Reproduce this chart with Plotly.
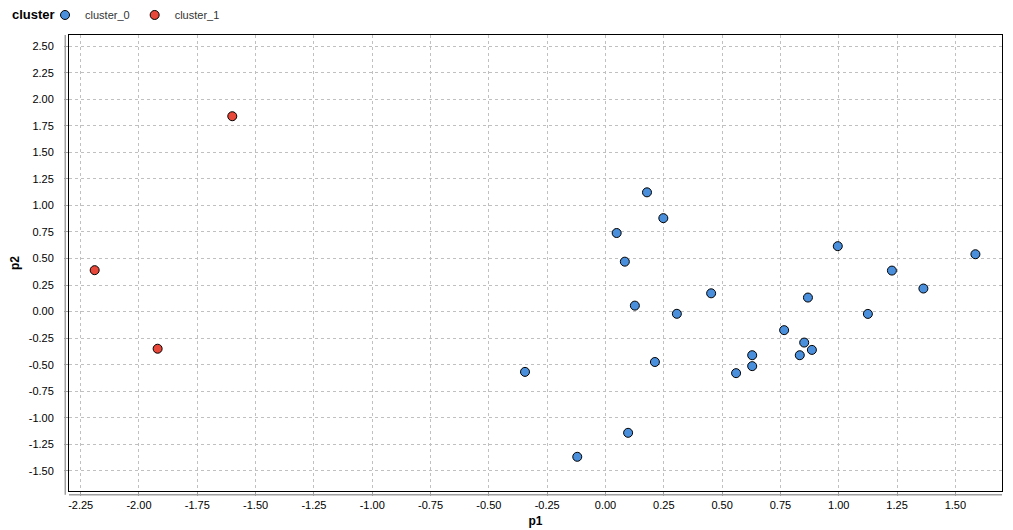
import plotly.graph_objects as go

# cluster_0 points
c0_p1 = [-0.345, -0.121, 0.097, 0.178, 0.248, 0.048, 0.083, 0.126, 0.306, 0.212,
         0.453, 0.868, 0.996, 1.125, 0.766, 0.852, 0.885, 0.833, 0.629, 0.629,
         0.560, 1.586, 1.228, 1.363]
c0_p2 = [-0.568, -1.368, -1.142, 1.123, 0.880, 0.740, 0.470, 0.056, -0.021, -0.475,
         0.172, 0.132, 0.616, -0.022, -0.175, -0.292, -0.361, -0.411, -0.411, -0.514,
         -0.580, 0.540, 0.386, 0.217]
# cluster_1 points
c1_p1 = [-2.19, -1.92, -1.60]
c1_p2 = [0.39, -0.35, 1.84]

x_ticks = [-2.25, -2.0, -1.75, -1.5, -1.25, -1.0, -0.75, -0.5, -0.25, 0.0, 0.25, 0.5, 0.75, 1.0, 1.25, 1.5]
y_ticks = [2.5, 2.25, 2.0, 1.75, 1.5, 1.25, 1.0, 0.75, 0.5, 0.25, 0.0, -0.25, -0.5, -0.75, -1.0, -1.25, -1.5]

font_family = "Liberation Sans, Arial, sans-serif"

fig = go.Figure()
fig.add_trace(go.Scatter(
    x=c0_p1, y=c0_p2, mode="markers", name="cluster_0",
    marker=dict(size=9, color="#4a8fdc", line=dict(color="black", width=1)),
))
fig.add_trace(go.Scatter(
    x=c1_p1, y=c1_p2, mode="markers", name="cluster_1",
    marker=dict(size=9, color="#e8483a", line=dict(color="black", width=1)),
))

legend_y = 1.0439

fig.update_layout(
    width=1005, height=522,
    margin=dict(l=61, r=11, t=27, b=39, autoexpand=False),
    paper_bgcolor="white", plot_bgcolor="white",
    font=dict(family=font_family, size=11, color="black"),
    showlegend=True,
    legend=dict(
        orientation="h", x=-0.0257, y=legend_y, xanchor="left", yanchor="middle",
        font=dict(size=11, color="#333333"),
        itemsizing="trace", itemwidth=30, tracegroupgap=0,
        bgcolor="rgba(0,0,0,0)",
    ),
    xaxis=dict(
        range=[-2.3, 1.7], tickvals=x_ticks, automargin=False,
        ticktext=[f"{v:.2f}" for v in x_ticks],
        showgrid=True, gridcolor="#c0c0c0", griddash="3px,3px", gridwidth=1,
        zeroline=False, showline=True, linecolor="black", linewidth=1, mirror=True,
        ticks="outside", ticklen=4, tickcolor="#a0a0a0",
        title=dict(text="<b>p1</b>", font=dict(size=12), standoff=6),
    ),
    yaxis=dict(
        range=[-1.69, 2.605], tickvals=y_ticks, automargin=False,
        ticktext=[f"{v:.2f}" for v in y_ticks],
        showgrid=True, gridcolor="#c0c0c0", griddash="3px,3px", gridwidth=1,
        zeroline=False, showline=True, linecolor="black", linewidth=1, mirror=True,
        ticks="outside", ticklen=4, tickcolor="#a0a0a0", ticklabelstandoff=8,
        title=dict(text="<b>p2</b>", font=dict(size=12), standoff=8),
    ),
    annotations=[dict(
        text="<b>cluster</b>", xref="paper", yref="paper", x=-0.0632, y=legend_y,
        xanchor="left", yanchor="middle", showarrow=False, font=dict(size=13, color="black"),
    )],
)

# offset gray axis lines outside the frame
fig.add_shape(type="line", xref="paper", yref="paper", x0=-0.004, x1=-0.004, y0=-0.008, y1=1.0,
              line=dict(color="#a0a0a0", width=1.5))
fig.add_shape(type="line", xref="paper", yref="paper", x0=0.0, x1=1.0, y0=-0.008, y1=-0.008,
              line=dict(color="#a0a0a0", width=1.5))

fig.write_html("out.html")
